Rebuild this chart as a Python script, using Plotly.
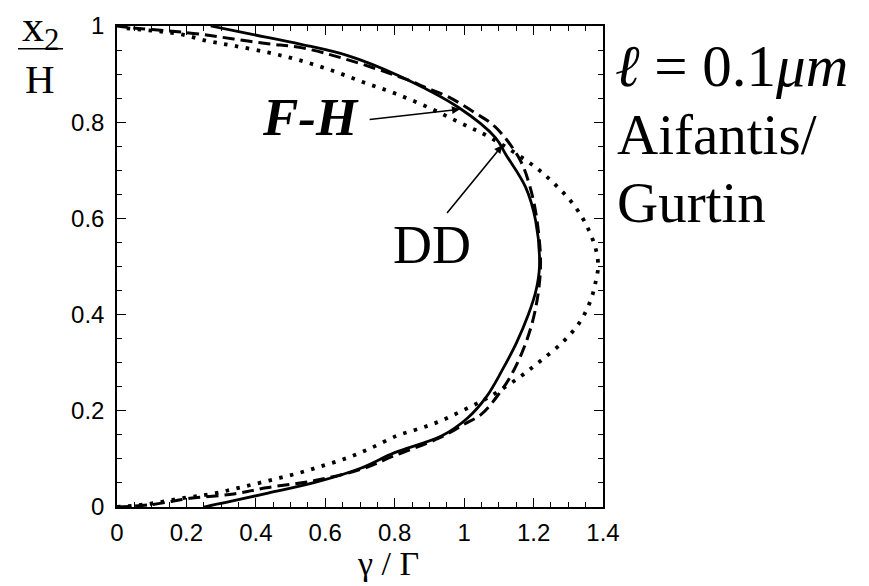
import plotly.graph_objects as go

# ---- data (gamma/Gamma, x2/H) ----
solid_g = [0.25, 0.33, 0.435, 0.57, 0.70, 0.80, 0.936, 1.01, 1.065, 1.11, 1.15, 1.185, 1.207, 1.217,
           1.206, 1.177, 1.12, 1.09, 0.985, 0.81, 0.667, 0.53, 0.386, 0.27]
solid_y = [0.0, 0.012, 0.029, 0.051, 0.08, 0.113, 0.148, 0.185, 0.23, 0.285, 0.34, 0.40, 0.45, 0.50,
           0.595, 0.665, 0.733, 0.768, 0.83, 0.897, 0.938, 0.962, 0.983, 1.0]

dash_g = [0.0, 0.1, 0.21, 0.336, 0.43, 0.57, 0.71, 0.80, 0.93, 1.0, 1.05, 1.10, 1.14, 1.177, 1.205,
          1.22, 1.21, 1.19, 1.16, 1.09, 1.03, 0.956, 0.887, 0.83, 0.655, 0.53, 0.435, 0.336,
          0.24, 0.145, 0.046, 0.0]
dash_y = [0.0, 0.005, 0.018, 0.027, 0.04, 0.055, 0.08, 0.107, 0.144, 0.172, 0.193, 0.235, 0.28, 0.34,
          0.41, 0.50, 0.595, 0.665, 0.723, 0.79, 0.82, 0.852, 0.873, 0.89, 0.932, 0.955,
          0.963, 0.973, 0.983, 0.99, 0.996, 1.0]

dot_g = [0.0, 0.087, 0.203, 0.28, 0.357, 0.438, 0.52, 0.594, 0.667, 0.733, 0.806, 0.858, 0.9,
         0.936, 0.974, 1.014, 1.05, 1.08, 1.154, 1.217, 1.284, 1.333, 1.365, 1.38, 1.386, 1.38,
         1.357, 1.32, 1.27, 1.206, 1.075, 0.985, 0.893, 0.80, 0.71, 0.617, 0.52, 0.435, 0.336,
         0.26, 0.183, 0.104, 0.017]
dot_y = [0.0, 0.006, 0.02, 0.028, 0.041, 0.055, 0.07, 0.086, 0.103, 0.123, 0.148, 0.16, 0.17,
         0.18, 0.193, 0.207, 0.22, 0.232, 0.267, 0.302, 0.343, 0.384, 0.431, 0.472, 0.50, 0.534,
         0.579, 0.624, 0.665, 0.706, 0.768, 0.80, 0.832, 0.86, 0.883, 0.908, 0.93, 0.945, 0.959,
         0.969, 0.983, 0.99, 0.996]

x_ticks = [0, 0.2, 0.4, 0.6, 0.8, 1, 1.2, 1.4]
x_ticktext = ["0", "0.2", "0.4", "0.6", "0.8", "1", "1.2", "1.4"]
y_ticks = [0, 0.2, 0.4, 0.6, 0.8, 1]
y_ticktext = ["0", "0.2", "0.4", "0.6", "0.8", "1"]

# ---- layout geometry (pixels) ----
W, H = 869, 586
L, R, T, B = 117, 603, 20, 507


def px(x):
    return (x - L) / (R - L)


def py(y):
    return (B - y) / (B - T)


fig = go.Figure()
fig.add_trace(go.Scatter(x=dot_g, y=dot_y, mode="lines", line=dict(color="black", width=3.8, dash="3.5px,7.5px", shape="spline"), showlegend=False))
fig.add_trace(go.Scatter(x=dash_g, y=dash_y, mode="lines", line=dict(color="black", width=3.0, dash="12px,6px", shape="spline"), showlegend=False))
fig.add_trace(go.Scatter(x=solid_g, y=solid_y, mode="lines", line=dict(color="black", width=2.8, shape="spline"), showlegend=False))

tickfont = dict(family="Liberation Sans, Arial, sans-serif", size=24, color="black")
axis_common = dict(showgrid=False, zeroline=False, showline=True, linecolor="black", linewidth=1.5,
                   mirror="allticks", ticks="inside", ticklen=9, tickwidth=1.3, tickcolor="black",
                   tickfont=tickfont,
                   minor=dict(ticks="inside", ticklen=5, tickwidth=1.1, tickcolor="black", dtick=0.05, showgrid=False))

fig.update_xaxes(range=[0, 1.4], tickvals=x_ticks, ticktext=x_ticktext, ticklabelstandoff=3, **axis_common)
fig.update_yaxes(range=[0, 1], tickvals=y_ticks, ticktext=y_ticktext, ticklabelstandoff=6, **axis_common)

serif = "Liberation Serif, Times New Roman, serif"
ann = []
# axis titles
ann.append(dict(x=px(388), y=py(564), xref="paper", yref="paper", text="γ / Γ", showarrow=False,
                font=dict(family=serif, size=34, color="black"), xanchor="center", yanchor="middle"))
ann.append(dict(x=px(40), y=py(24), xref="paper", yref="paper", text="x<sub>2</sub>", showarrow=False,
                font=dict(family=serif, size=44, color="black"), xanchor="center", yanchor="middle"))
ann.append(dict(x=px(40), y=py(74), xref="paper", yref="paper", text="H", showarrow=False,
                font=dict(family=serif, size=41, color="black"), xanchor="center", yanchor="middle"))
# labels with arrows
ann.append(dict(x=0.988, y=0.827, ax=0.722, ay=0.805, xref="x", yref="y", axref="x", ayref="y",
                text=" ", showarrow=True, arrowhead=2, arrowsize=1, arrowwidth=1.6, arrowcolor="black",
                font=dict(size=2)))
ann.append(dict(x=1.11, y=0.752, ax=0.945, ay=0.606, xref="x", yref="y", axref="x", ayref="y",
                text=" ", showarrow=True, arrowhead=2, arrowsize=1, arrowwidth=1.6, arrowcolor="black",
                font=dict(size=2)))
ann.append(dict(x=px(310), y=py(112), xref="paper", yref="paper", text="<b><i>F-H</i></b>", showarrow=False,
                font=dict(family=serif, size=53, color="black"), xanchor="center", yanchor="middle"))
ann.append(dict(x=px(432), y=py(242), xref="paper", yref="paper", text="DD", showarrow=False,
                font=dict(family=serif, size=54, color="black"), xanchor="center", yanchor="middle"))
# right-side text
ann.append(dict(x=px(613), y=py(60), xref="paper", yref="paper", text="<i>ℓ</i> = 0.1<i>μm</i>", showarrow=False,
                font=dict(family=serif, size=59, color="black"), xanchor="left", yanchor="middle"))
ann.append(dict(x=px(615), y=py(130), xref="paper", yref="paper", text="Aifantis/", showarrow=False,
                font=dict(family=serif, size=57, color="black"), xanchor="left", yanchor="middle"))
ann.append(dict(x=px(615), y=py(199), xref="paper", yref="paper", text="Gurtin", showarrow=False,
                font=dict(family=serif, size=57, color="black"), xanchor="left", yanchor="middle"))

shapes = [dict(type="line", xref="paper", yref="paper", x0=px(18), x1=px(63), y0=py(43), y1=py(43),
               line=dict(color="black", width=1.5))]

fig.update_layout(width=W, height=H, autosize=False,
                  margin=dict(l=L, r=W - R, t=T, b=H - B, pad=0),
                  paper_bgcolor="white", plot_bgcolor="white",
                  annotations=ann, shapes=shapes, showlegend=False)

fig.write_html("out.html")
